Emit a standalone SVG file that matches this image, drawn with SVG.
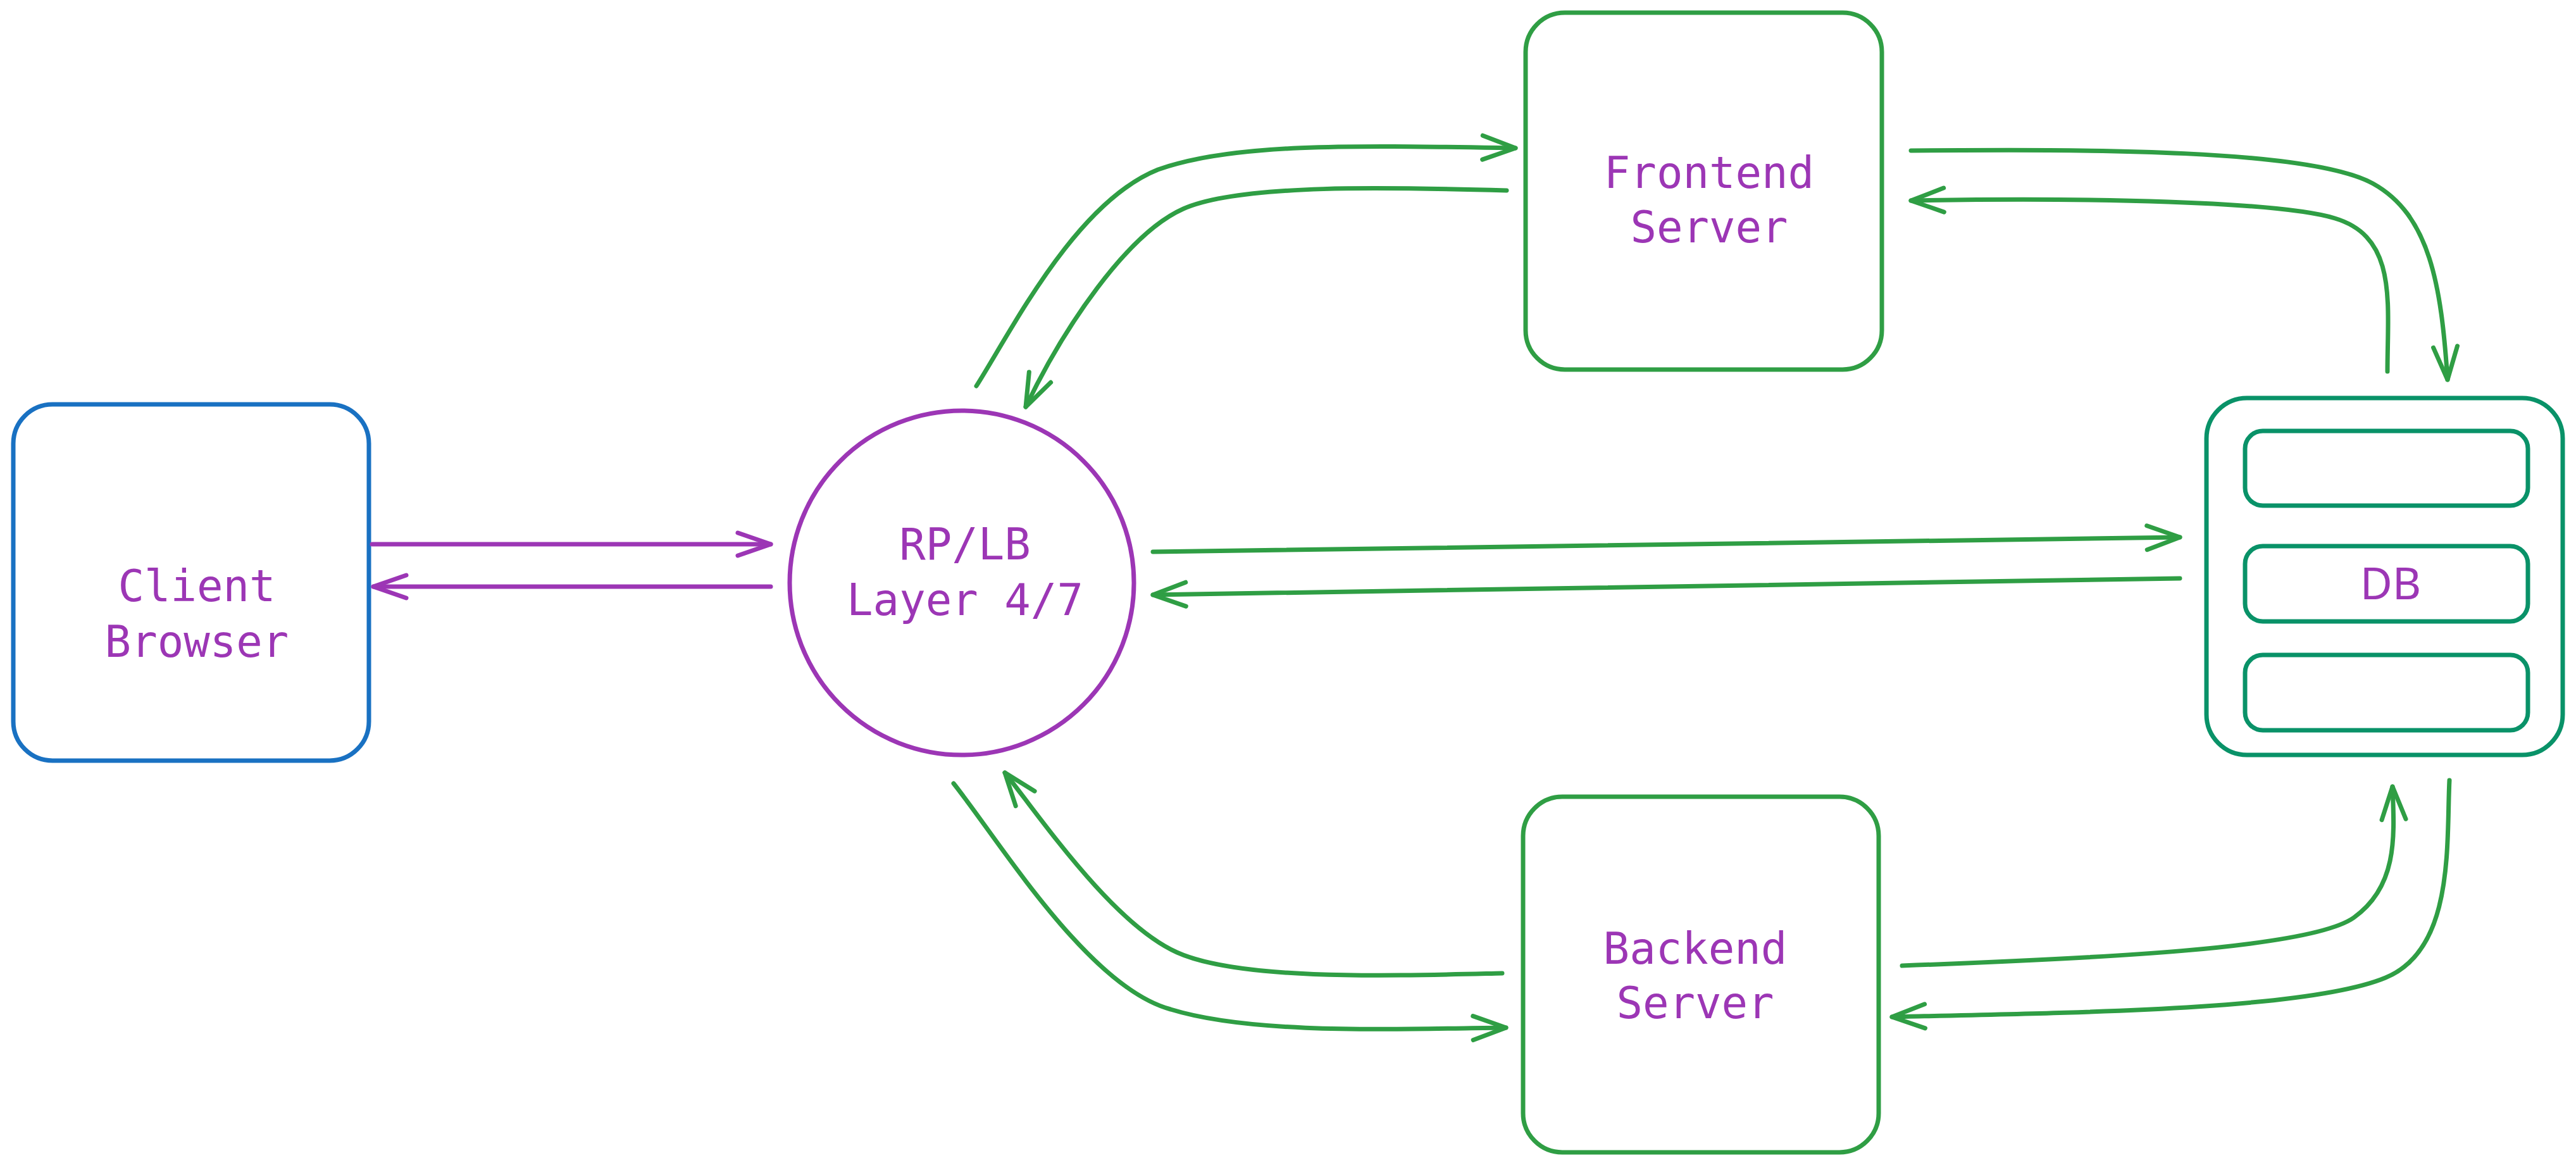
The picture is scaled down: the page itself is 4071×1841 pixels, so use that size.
<svg xmlns="http://www.w3.org/2000/svg" width="4071" height="1841" viewBox="0 0 4071 1841">
<style>
.mono{font-family:"DejaVu Sans Mono","Liberation Mono",monospace;font-size:69px;fill:#9c36b5;text-anchor:middle}
.sans{font-family:"Noto Sans","Liberation Sans",sans-serif;font-size:70px;fill:#9c36b5;text-anchor:middle}
.box{fill:#fff;stroke-width:7}
.g{fill:none;stroke:#2f9e44;stroke-width:7;stroke-linecap:round;stroke-linejoin:round}
.p{fill:none;stroke:#9c36b5;stroke-width:7;stroke-linecap:round;stroke-linejoin:round}
</style>
<defs>
<marker id="ag" markerUnits="userSpaceOnUse" orient="auto" refX="0" refY="0" viewBox="-60 -30 70 60" markerWidth="70" markerHeight="60" overflow="visible">
<path d="M-52,-19 L0,0 L-52,19" fill="none" stroke="#2f9e44" stroke-width="7" stroke-linecap="round" stroke-linejoin="round"/>
</marker>
<marker id="ap" markerUnits="userSpaceOnUse" orient="auto" refX="0" refY="0" viewBox="-60 -30 70 60" markerWidth="70" markerHeight="60" overflow="visible">
<path d="M-52,-18 L0,0 L-52,18" fill="none" stroke="#9c36b5" stroke-width="7" stroke-linecap="round" stroke-linejoin="round"/>
</marker>
</defs>
<rect width="4071" height="1841" fill="#fff"/>
<g id="client">
<rect class="box" x="21" y="639" width="562" height="563" rx="62" stroke="#1971c2"/>
<text class="mono" x="311" y="950">Client</text>
<text class="mono" x="311" y="1038">Browser</text>
</g>
<g id="rplb">
<circle class="box" cx="1520" cy="921" r="272" stroke="#9c36b5"/>
<text class="mono" x="1525" y="884">RP/LB</text>
<text class="mono" x="1525" y="972">Layer 4/7</text>
</g>
<g id="frontend">
<rect class="box" x="2411" y="20" width="563" height="564" rx="62" stroke="#2f9e44"/>
<text class="mono" x="2701" y="297">Frontend</text>
<text class="mono" x="2701" y="383">Server</text>
</g>
<g id="backend">
<rect class="box" x="2407" y="1259" width="562" height="562" rx="62" stroke="#2f9e44"/>
<text class="mono" x="2679" y="1523">Backend</text>
<text class="mono" x="2679" y="1609">Server</text>
</g>
<g id="db">
<rect class="box" x="3487" y="629" width="563" height="564" rx="64" stroke="#099268"/>
<rect class="box" x="3548" y="681" width="447" height="118" rx="28" stroke="#099268"/>
<rect class="box" x="3548" y="863" width="447" height="119" rx="28" stroke="#099268"/>
<rect class="box" x="3548" y="1035" width="447" height="119" rx="28" stroke="#099268"/>
<text class="sans" x="3778" y="947">DB</text>
</g>
<g id="connectors">
<path class="p" d="M588,860 L1218,860" marker-end="url(#ap)"/>
<path class="p" d="M1218,927 L590,927" marker-end="url(#ap)"/>
<path class="g" d="M1822,872 L3445,849" marker-end="url(#ag)"/>
<path class="g" d="M3445,914 L1822,940" marker-end="url(#ag)"/>
<path class="g" d="M1543,610 C1600,520 1700,320 1830,268 C1950,225 2150,230 2395,234" marker-end="url(#ag)"/>
<path class="g" d="M2381,301 C2200,296 1960,290 1870,330 C1780,370 1680,520 1621,643" marker-end="url(#ag)"/>
<path class="g" d="M3020,238 C3300,236 3650,235 3750,290 C3840,340 3858,450 3868,600" marker-end="url(#ag)"/>
<path class="g" d="M3773,587 C3773,480 3790,375 3690,345 C3600,318 3300,312 3020,317" marker-end="url(#ag)"/>
<path class="g" d="M1507,1238 C1580,1330 1720,1560 1850,1595 C1980,1635 2200,1626 2380,1624" marker-end="url(#ag)"/>
<path class="g" d="M2374,1538 C2200,1542 1960,1550 1860,1505 C1760,1460 1650,1300 1588,1221" marker-end="url(#ag)"/>
<path class="g" d="M3006,1526 C3300,1515 3650,1500 3720,1450 C3790,1400 3784,1320 3781,1243" marker-end="url(#ag)"/>
<path class="g" d="M3871,1233 C3866,1330 3880,1500 3770,1545 C3650,1595 3300,1600 2990,1607" marker-end="url(#ag)"/>
</g>
</svg>
